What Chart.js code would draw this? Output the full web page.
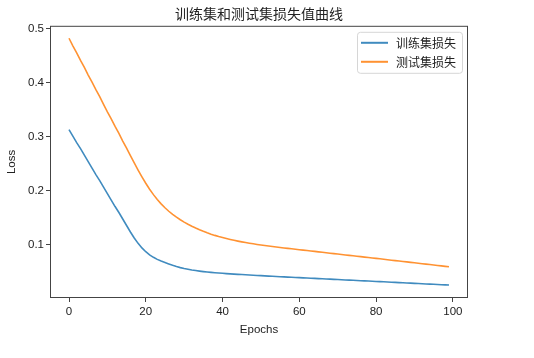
<!DOCTYPE html>
<html>
<head>
<meta charset="utf-8">
<script src="https://cdn.jsdelivr.net/npm/chart.js@4"></script>
<style>
  html, body { margin: 0; padding: 0; background: #fff; }
  #wrap { width: 534px; height: 358px; }
</style>
</head>
<body>
<div id="wrap"><canvas id="lossChart" width="534" height="358"></canvas></div>
<script>
// epochs 0..99
const epochs = Array.from({ length: 100 }, (_, i) => i);

// train loss
const trainLoss = [
  0.313, 0.301, 0.289, 0.278, 0.266, 0.254, 0.242, 0.230, 0.219, 0.207,
  0.195, 0.183, 0.171, 0.160, 0.148, 0.136, 0.124, 0.113, 0.103, 0.0945,
  0.0875, 0.0818, 0.0772, 0.0734, 0.0702, 0.0675, 0.0649, 0.0624, 0.0601, 0.0581,
  0.0565, 0.0551, 0.0538, 0.0527, 0.0517, 0.0508, 0.0500, 0.0493, 0.0487, 0.0481,
  0.0476, 0.0471, 0.0466, 0.0461, 0.0457, 0.0453, 0.0449, 0.0445, 0.0441, 0.0437,
  0.0433, 0.0429, 0.0425, 0.0421, 0.0417, 0.0413, 0.0410, 0.0406, 0.0403, 0.0399,
  0.0396, 0.0392, 0.0389, 0.0385, 0.0382, 0.0378, 0.0375, 0.0371, 0.0368, 0.0364,
  0.0361, 0.0357, 0.0354, 0.0350, 0.0347, 0.0343, 0.0340, 0.0336, 0.0333, 0.0329,
  0.0326, 0.0322, 0.0319, 0.0315, 0.0312, 0.0308, 0.0305, 0.0301, 0.0298, 0.0294,
  0.0291, 0.0287, 0.0284, 0.0280, 0.0277, 0.0273, 0.0270, 0.0266, 0.0263, 0.0259,
];

// test loss
const testLoss = [
  0.482, 0.468, 0.455, 0.441, 0.428, 0.414, 0.401, 0.387, 0.374, 0.360,
  0.346, 0.333, 0.319, 0.306, 0.292, 0.279, 0.265, 0.2515, 0.2385, 0.226,
  0.214, 0.203, 0.193, 0.184, 0.176, 0.1688, 0.1623, 0.1565, 0.1513, 0.1466,
  0.1423, 0.1383, 0.1346, 0.1312, 0.1281, 0.1252, 0.1225, 0.1200, 0.1177, 0.1156,
  0.1137, 0.1119, 0.1102, 0.1086, 0.1071, 0.1057, 0.1044, 0.1032, 0.1021, 0.1010,
  0.1000, 0.0990, 0.0981, 0.0972, 0.0963, 0.0954, 0.0945, 0.0937, 0.0929, 0.0921,
  0.0913, 0.0905, 0.0897, 0.0889, 0.0881, 0.0873, 0.0864, 0.0856, 0.0848, 0.0840,
  0.0832, 0.0824, 0.0816, 0.0808, 0.0800, 0.0792, 0.0784, 0.0776, 0.0768, 0.0760,
  0.0752, 0.0744, 0.0735, 0.0727, 0.0719, 0.0711, 0.0703, 0.0695, 0.0687, 0.0678,
  0.0670, 0.0662, 0.0654, 0.0646, 0.0638, 0.0629, 0.0621, 0.0613, 0.0605, 0.0597,
];

const xTicks = [0, 20, 40, 60, 80, 100];
const yTicks = [0.1, 0.2, 0.3, 0.4, 0.5];

const seriesNames = ["训练集损失", "测试集损失"];
const titleText = "训练集和测试集损失值曲线";

const FONT = "'Liberation Sans', Arial, 'Noto Sans CJK SC', sans-serif";
const CJK = "'Noto Sans CJK SC', sans-serif";
const frameColor = "#444";

const toPoints = (ys) => ys.map((y, i) => ({ x: epochs[i], y }));

// all four spines + framed legend like matplotlib
const framePlugin = {
  id: "frame",
  afterDraw(chart) {
    const { ctx, chartArea: a } = chart;
    ctx.save();
    ctx.strokeStyle = frameColor;
    ctx.lineWidth = 1;
    ctx.strokeRect(a.left + 0.5, a.top + 0.5, a.right - a.left - 1, a.bottom - a.top - 1);

    // legend
    ctx.font = "12px " + CJK;
    const textW = Math.max(...chart.data.datasets.map((d) => ctx.measureText(d.label).width));
    const w = 3 + 28 + 8 + textW + 6;
    const h = 41;
    const x0 = a.right - 6 - w;
    const y0 = a.top + 6;
    ctx.beginPath();
    ctx.roundRect(x0 + 0.5, y0 + 0.5, w, h, 3);
    ctx.fillStyle = "rgba(255,255,255,0.8)";
    ctx.fill();
    ctx.strokeStyle = "#d6d6d6";
    ctx.stroke();
    chart.data.datasets.forEach((d, i) => {
      const cy = y0 + 11 + i * 19;
      ctx.strokeStyle = d.borderColor;
      ctx.lineWidth = 2;
      ctx.beginPath();
      ctx.moveTo(x0 + 4, cy);
      ctx.lineTo(x0 + 31, cy);
      ctx.stroke();
      ctx.fillStyle = "#222";
      ctx.textBaseline = "middle";
      ctx.textAlign = "left";
      ctx.fillText(d.label, x0 + 39, cy + 0.5);
    });
    ctx.restore();
  },
};

new Chart(document.getElementById("lossChart"), {
  type: "line",
  data: {
    datasets: [
      {
        label: seriesNames[0],
        data: toPoints(trainLoss),
        borderColor: "rgba(31,119,180,0.85)",
        borderWidth: 1.6,
        pointRadius: 0,
        tension: 0,
      },
      {
        label: seriesNames[1],
        data: toPoints(testLoss),
        borderColor: "rgba(255,127,14,0.85)",
        borderWidth: 1.6,
        pointRadius: 0,
        tension: 0,
      },
    ],
  },
  options: {
    responsive: false,
    animation: false,
    layout: { padding: { left: 0, right: 66, top: 0, bottom: 0 } },
    plugins: {
      legend: { display: false },
      tooltip: { enabled: false },
      title: {
        display: true,
        text: titleText,
        fullSize: false,
        color: "#222",
        font: { family: CJK, size: 14, weight: "normal", lineHeight: 1.2 },
        padding: { top: 5, bottom: 4 },
      },
    },
    scales: {
      x: {
        type: "linear",
        min: -4.95,
        max: 103.95,
        afterBuildTicks: (s) => { s.ticks = xTicks.map((v) => ({ value: v })); },
        afterFit: (s) => { s.height = 60; },
        grid: { drawOnChartArea: false, drawTicks: true, tickLength: 4, color: frameColor },
        border: { display: false },
        ticks: { color: "#222", font: { family: FONT, size: 11.5 }, padding: 3, maxRotation: 0 },
        title: {
          display: true,
          text: "Epochs",
          color: "#222",
          font: { family: FONT, size: 11.5, lineHeight: 1.2 },
          padding: { top: 2, bottom: 21 },
        },
      },
      y: {
        type: "linear",
        min: 0.002,
        max: 0.505,
        afterBuildTicks: (s) => { s.ticks = yTicks.map((v) => ({ value: v })); },
        afterFit: (s) => { s.width = 50; },
        grid: { drawOnChartArea: false, drawTicks: true, tickLength: 4, color: frameColor },
        border: { display: false },
        ticks: {
          color: "#222",
          font: { family: FONT, size: 11.5 },
          padding: 2,
          callback: (v) => v.toFixed(1),
        },
        title: {
          display: true,
          text: "Loss",
          color: "#222",
          font: { family: FONT, size: 11.5, lineHeight: 1.2 },
          padding: { top: 5, bottom: 2 },
        },
      },
    },
  },
  plugins: [framePlugin],
});
</script>
</body>
</html>
